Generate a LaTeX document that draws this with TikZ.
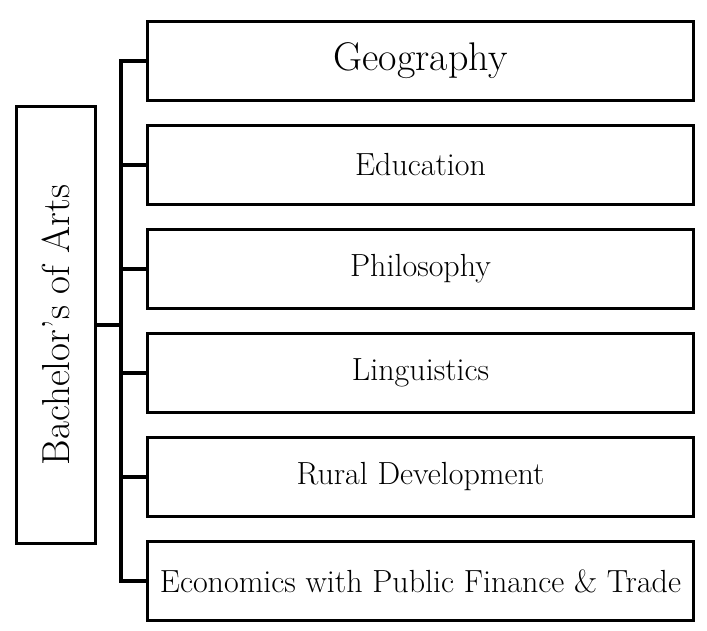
\documentclass[tikz,border=0pt]{standalone}
\usepackage{tikz}
\usetikzlibrary{positioning}

\tikzset{
  degree/.style={draw, line width=3.5pt, minimum width=546pt, minimum height=79pt, inner sep=0pt,
    font=\fontsize{32}{34}\selectfont},
  rootbox/.style={draw, line width=3.5pt, minimum width=79pt, minimum height=437pt, inner sep=0pt,
    font=\fontsize{39}{41}\selectfont},
}

\begin{document}
\begin{tikzpicture}[x=1pt, y=-1pt, node distance=21.5pt]
  \useasboundingbox (0,0) rectangle (707,631);

    % draw root box
    \node[rootbox] (ba) at (56,325) {\rotatebox{90}{Bachelor's of Arts}};
    \coordinate (hub) at (121,325);

    % draw degree boxes
    \node[degree, font=\fontsize{40}{42}\selectfont] (geo) at (420.5,61) {Geography};
    \node[degree, below=of geo] (edu) {Education};
    \node[degree, below=of edu] (phil) {Philosophy};
    \node[degree, below=of phil] (ling) {Linguistics};
    \node[degree, below=of ling] (rural) {Rural Development};
    \node[degree, below=of rural] (econ) {Economics with Public Finance \& Trade};

    % draw tree
    \draw[line width=3.5pt] (ba.east) -- (hub);
    \foreach \d in {geo,edu,phil,ling,rural,econ}
      \draw[line width=3.5pt] (hub) |- (\d.west);
\end{tikzpicture}
\end{document}
